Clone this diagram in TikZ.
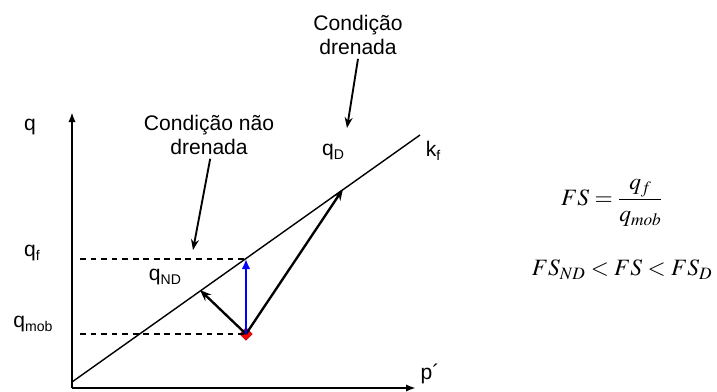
\documentclass[tikz,border=0pt]{standalone}
\usepackage{mathptmx}
\usepackage[no-math]{fontspec}
\setmainfont{Liberation Sans}
\usetikzlibrary{arrows.meta, positioning}

% small lowered subscript in the label font
\newcommand{\qsub}[2]{#1{\fontsize{12}{12}\selectfont\raisebox{-3pt}{#2}}}

\begin{document}
\begin{tikzpicture}[
    x=0.03cm, y=-0.03cm,
    lbl/.style    = {font=\fontsize{18}{20}\selectfont, inner sep=1pt},
    note/.style   = {lbl, align=center},
    axis/.style   = {line width=2.2pt, -{Latex[length=3mm, width=2.2mm]}},
    envel/.style  = {line width=1.2pt},
    guide/.style  = {line width=1pt, dash pattern=on 5pt off 4pt},
    path/.style   = {line width=2pt, -{Stealth[length=3.4mm, width=2.6mm]}},
    pointer/.style= {line width=1.6pt, -{Stealth[length=3.2mm, width=2.4mm]}},
]
\useasboundingbox (0,0) rectangle (717,392);

%% ---- Axes ----
\coordinate (O)   at (72,388);
\coordinate (Qtop) at (72,112);
\coordinate (Pend) at (416,388);
\draw[axis] (O) -- (Qtop);
\draw[axis] (O) -- (Pend);

%% ---- Failure envelope k_f ----
\coordinate (K0) at (72,382);
\coordinate (K1) at (420,135);
\draw[envel] (K0) -- (K1);

%% ---- Stress points ----
\node[fill=red, draw=red!60!black, rotate=45, minimum size=7.5pt, inner sep=0pt] (M) at (246,334) {};
\coordinate (F)  at (246,259);   % undrained failure point (vertical path)
\coordinate (ND) at (200,290);   % undrained (with pore pressure)
\coordinate (D)  at (343,189);   % drained

%% ---- Dashed guides ----
\coordinate (Gf) at (80,259);
\coordinate (Gm) at (80,334);
\draw[guide] (Gf) -- (F);
\draw[guide] (Gm) -- (M.center);

%% ---- Stress paths ----
\draw[path] (M.center) -- (ND);
\draw[path] (M.center) -- (D);
\draw[path, blue, -{Latex[length=3mm, width=2.6mm]}] (M.center) -- (F);

%% ---- Axis labels ----
\node[lbl] (lq)   at (30,127) {q};
\node[lbl] (lp)   at (430,374) {p´};
\node[lbl] (lqf)  at (32,253) {\qsub{q}{f}};
\node[lbl] (lqm)  at (33,324) {\qsub{q}{mob}};
\node[lbl] (lkf)  at (433,151) {\qsub{k}{f}};
\node[lbl] (lqD)  at (333,152) {\qsub{q}{D}};
\node[lbl] (lqND) at (165,277) {\qsub{q}{ND}};

%% ---- Annotations ----
\node[note] (und) at (209,135) {Condição não\\drenada};
\node[note] (dre) at (358,35)  {Condição\\drenada};
\coordinate (undtip) at (193,250);
\coordinate (dretip) at (347,128);
\draw[pointer] ([xshift=1pt]und.south) ++(0,3) -- (undtip);
\draw[pointer] (dre.south) ++(0,3) -- (dretip);

%% ---- Safety factor ----
\node[font=\fontsize{20}{24}\selectfont] (fs1) at (612,203) {$\displaystyle FS=\frac{q_f}{q_{mob}}$};
\node[font=\fontsize{20}{24}\selectfont] (fs2) at (622,270) {$FS_{ND}<FS<FS_D$};

\end{tikzpicture}
\end{document}
